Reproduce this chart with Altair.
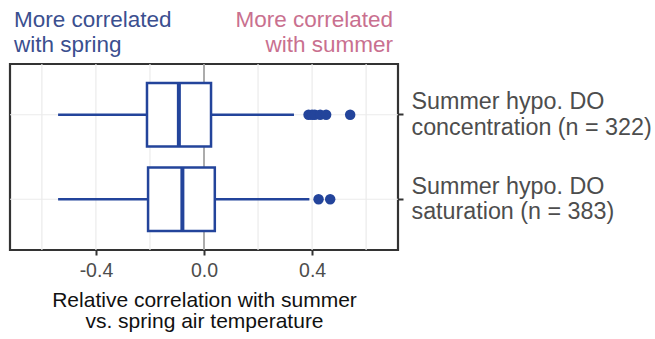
import altair as alt
import pandas as pd

groups = ["Summer hypo. DO|concentration (n = 322)", "Summer hypo. DO|saturation (n = 383)"]
whisker_low = [-0.54, -0.54]
q1 = [-0.211, -0.207]
median = [-0.093, -0.080]
q3 = [0.026, 0.040]
whisker_high = [0.333, 0.390]
outlier_group = [0, 0, 0, 0, 0, 0, 1, 1]
outlier_value = [0.387, 0.40, 0.41, 0.43, 0.452, 0.541, 0.424, 0.467]
grid_values = [-0.6, -0.4, -0.2, 0.0, 0.2, 0.4, 0.6]
tick_values = [-0.4, 0.0, 0.4]

BLUE = "#23449b"
FONT = "Liberation Sans"
XDOM = [-0.718, 0.718]

box = pd.DataFrame({"group": groups, "low": whisker_low, "q1": q1, "median": median,
                    "q3": q3, "high": whisker_high})
outl = pd.DataFrame({"group": [groups[i] for i in outlier_group], "value": outlier_value})
grid = pd.DataFrame({"v": grid_values})
notes = pd.DataFrame({"x": [XDOM[0], XDOM[1]],
                      "text": [["More correlated", "with spring"], ["More correlated", "with summer"]],
                      "side": ["left", "right"]})

xscale = alt.Scale(domain=XDOM, nice=False, zero=False)
yscale = alt.Scale(domain=groups, paddingInner=0.25, paddingOuter=0.225)

xaxis = alt.Axis(values=tick_values, grid=False, domain=False, tickSize=5, tickWidth=2,
                 tickColor="#333333", labelFontSize=19.5, labelColor="#4d4d4d", labelFont=FONT,
                 labelPadding=6,
                 labelExpr="datum.value < 0 ? '-' + format(-datum.value, '.1f') : format(datum.value, '.1f')",
                 title=["Relative correlation with summer", "vs. spring air temperature"],
                 titleFontSize=21, titleFont=FONT, titleFontWeight="normal", titleColor="#111111",
                 titlePadding=10, titleLineHeight=21)
yaxis = alt.Axis(orient="right", title=None, domain=False, grid=False, tickSize=5, tickWidth=2,
                 tickColor="#333333", labelFontSize=23.3, labelColor="#4d4d4d", labelFont=FONT,
                 labelAlign="left", labelBaseline="middle", labelPadding=8, labelLineHeight=25.5,
                 labelOffset=-12.5,
                 labelExpr="split(datum.label, '|')", labelLimit=400)

gridl = alt.Chart(grid).mark_rule(color="#ebebeb", strokeWidth=1.2).encode(
    x=alt.X("v:Q", scale=xscale, axis=xaxis))
zero = alt.Chart(pd.DataFrame({"v": [0.0]})).mark_rule(color="#9a9a9a", strokeWidth=1.6).encode(
    x=alt.X("v:Q", scale=xscale))
hgrid = alt.Chart(box).mark_rule(color="#ebebeb", strokeWidth=1.2).encode(
    y=alt.Y("group:N", scale=yscale, axis=yaxis, sort=groups), x=alt.value(0), x2=alt.value(388))

whisk = alt.Chart(box).mark_rule(color=BLUE, strokeWidth=2.6).encode(
    y=alt.Y("group:N", scale=yscale, sort=groups),
    x=alt.X("low:Q", scale=xscale), x2="high:Q")
bars = alt.Chart(box).mark_bar(fill="white", stroke=BLUE, strokeWidth=2.5).encode(
    y=alt.Y("group:N", scale=yscale, sort=groups),
    x=alt.X("q1:Q", scale=xscale), x2="q3:Q")
med = alt.Chart(box).mark_tick(color=BLUE, thickness=4, size=63, orient="vertical", opacity=1).encode(
    y=alt.Y("group:N", scale=yscale, sort=groups),
    x=alt.X("median:Q", scale=xscale))
pts = alt.Chart(outl).mark_circle(color=BLUE, opacity=1, size=110).encode(
    y=alt.Y("group:N", scale=yscale, sort=groups),
    x=alt.X("value:Q", scale=xscale))

note_l = alt.Chart(notes[notes.side == "left"]).mark_text(
    align="left", baseline="middle", fontSize=22.5, font=FONT, color="#3b4f8f", lineHeight=25, dx=4
).encode(x=alt.X("x:Q", scale=xscale), y=alt.value(-44), text="text")
note_r = alt.Chart(notes[notes.side == "right"]).mark_text(
    align="right", baseline="middle", fontSize=22.5, font=FONT, color="#c9708f", lineHeight=25, dx=-5
).encode(x=alt.X("x:Q", scale=xscale), y=alt.value(-44), text="text")

chart = alt.layer(gridl, hgrid, zero, whisk, bars, med, pts, note_l, note_r).properties(
    width=388, height=186,
    background="white",
    autosize=alt.AutoSizeParams(type="none"),
    padding={"left": 10, "top": 64, "right": 257, "bottom": 89},
).configure_view(stroke="#333333", strokeWidth=2.2)

chart.save("out.html", embed_options={"renderer": "svg", "actions": False})
